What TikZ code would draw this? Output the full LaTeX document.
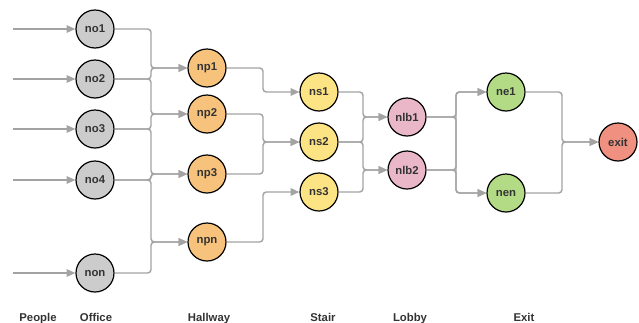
\documentclass[tikz,border=0pt]{standalone}
\usepackage{fontspec}
\setmainfont{Liberation Sans}
\usetikzlibrary{arrows.meta}
\definecolor{officec}{HTML}{CCCCCC}
\definecolor{hallc}{HTML}{F7C27B}
\definecolor{stairc}{HTML}{FCE383}
\definecolor{lobbyc}{HTML}{EAB7C9}
\definecolor{exitc}{HTML}{B3DA85}
\definecolor{finalc}{HTML}{F09080}
\definecolor{linec}{HTML}{A3A3A3}
\definecolor{textc}{HTML}{333333}
\tikzset{
  room/.style={circle, draw=black, line width=0.9pt, minimum size=28.5pt,
    inner sep=0pt, font=\fontsize{8.5}{9}\selectfont\bfseries, text=textc},
  flow/.style={draw=linec, line width=1.1pt, rounded corners=2.5pt,
    -{Triangle[length=6.5pt,width=5.5pt]}},
  stage/.style={anchor=base, font=\fontsize{8.5}{10}\selectfont\bfseries, text=textc},
}
\begin{document}
\begin{tikzpicture}[x=0.75pt, y=-0.75pt]
\useasboundingbox (0,0) rectangle (639,322);
% offices
\node[room, fill=officec] (no1) at (95,29) {no1};
\node[room, fill=officec] (no2) at (95,79) {no2};
\node[room, fill=officec] (no3) at (95,129) {no3};
\node[room, fill=officec] (no4) at (95,180) {no4};
\node[room, fill=officec] (non) at (95,273) {non};
% hallways
\node[room, fill=hallc] (np1) at (207,68) {np1};
\node[room, fill=hallc] (np2) at (207,114) {np2};
\node[room, fill=hallc] (np3) at (207,174) {np3};
\node[room, fill=hallc] (npn) at (207,242) {npn};
% stairs
\node[room, fill=stairc] (ns1) at (319,92) {ns1};
\node[room, fill=stairc] (ns2) at (319,142) {ns2};
\node[room, fill=stairc] (ns3) at (319,192) {ns3};
% lobbies
\node[room, fill=lobbyc] (nlb1) at (407,117) {nlb1};
\node[room, fill=lobbyc] (nlb2) at (407,170) {nlb2};
% exits
\node[room, fill=exitc] (ne1) at (506,92) {ne1};
\node[room, fill=exitc] (nen) at (506,193) {nen};
\node[room, fill=finalc] (exit) at (618,142) {exit};
% vertical collector lines
\coordinate (bus1) at (151,0);
\coordinate (bus2) at (263,0);
\coordinate (bus3) at (363,0);
\coordinate (bus4) at (456,0);
\coordinate (bus5) at (562,0);
% people entering the offices
\foreach \o in {no1,no2,no3,no4,non}{
  \coordinate (in-\o) at ([xshift=-46.5pt]\o.west);
  \draw[flow] (in-\o) -- (\o.west);
}
% routes between stages
\foreach \s/\t/\b in {no1/np1/bus1, no2/np1/bus1, no2/np2/bus1, no3/np2/bus1,
    no3/np3/bus1, no4/np3/bus1, no4/npn/bus1, non/npn/bus1,
    np1/ns1/bus2, np2/ns2/bus2, np3/ns2/bus2, npn/ns3/bus2,
    ns1/nlb1/bus3, ns2/nlb1/bus3, ns2/nlb2/bus3, ns3/nlb2/bus3,
    nlb1/ne1/bus4, nlb1/nen/bus4, nlb2/ne1/bus4, nlb2/nen/bus4,
    ne1/exit/bus5, nen/exit/bus5}{
  \draw[flow] (\s.east) -- (\s.east -| \b) |- (\t.west);
}
% stage labels
\node[stage] (l1) at (38,321) {People};
\node[stage] (l2) at (96,321) {Office};
\node[stage] (l3) at (209,321) {Hallway};
\node[stage] (l4) at (323,321) {Stair};
\node[stage] (l5) at (410,321) {Lobby};
\node[stage] (l6) at (524,321) {Exit};
\end{tikzpicture}
\end{document}
